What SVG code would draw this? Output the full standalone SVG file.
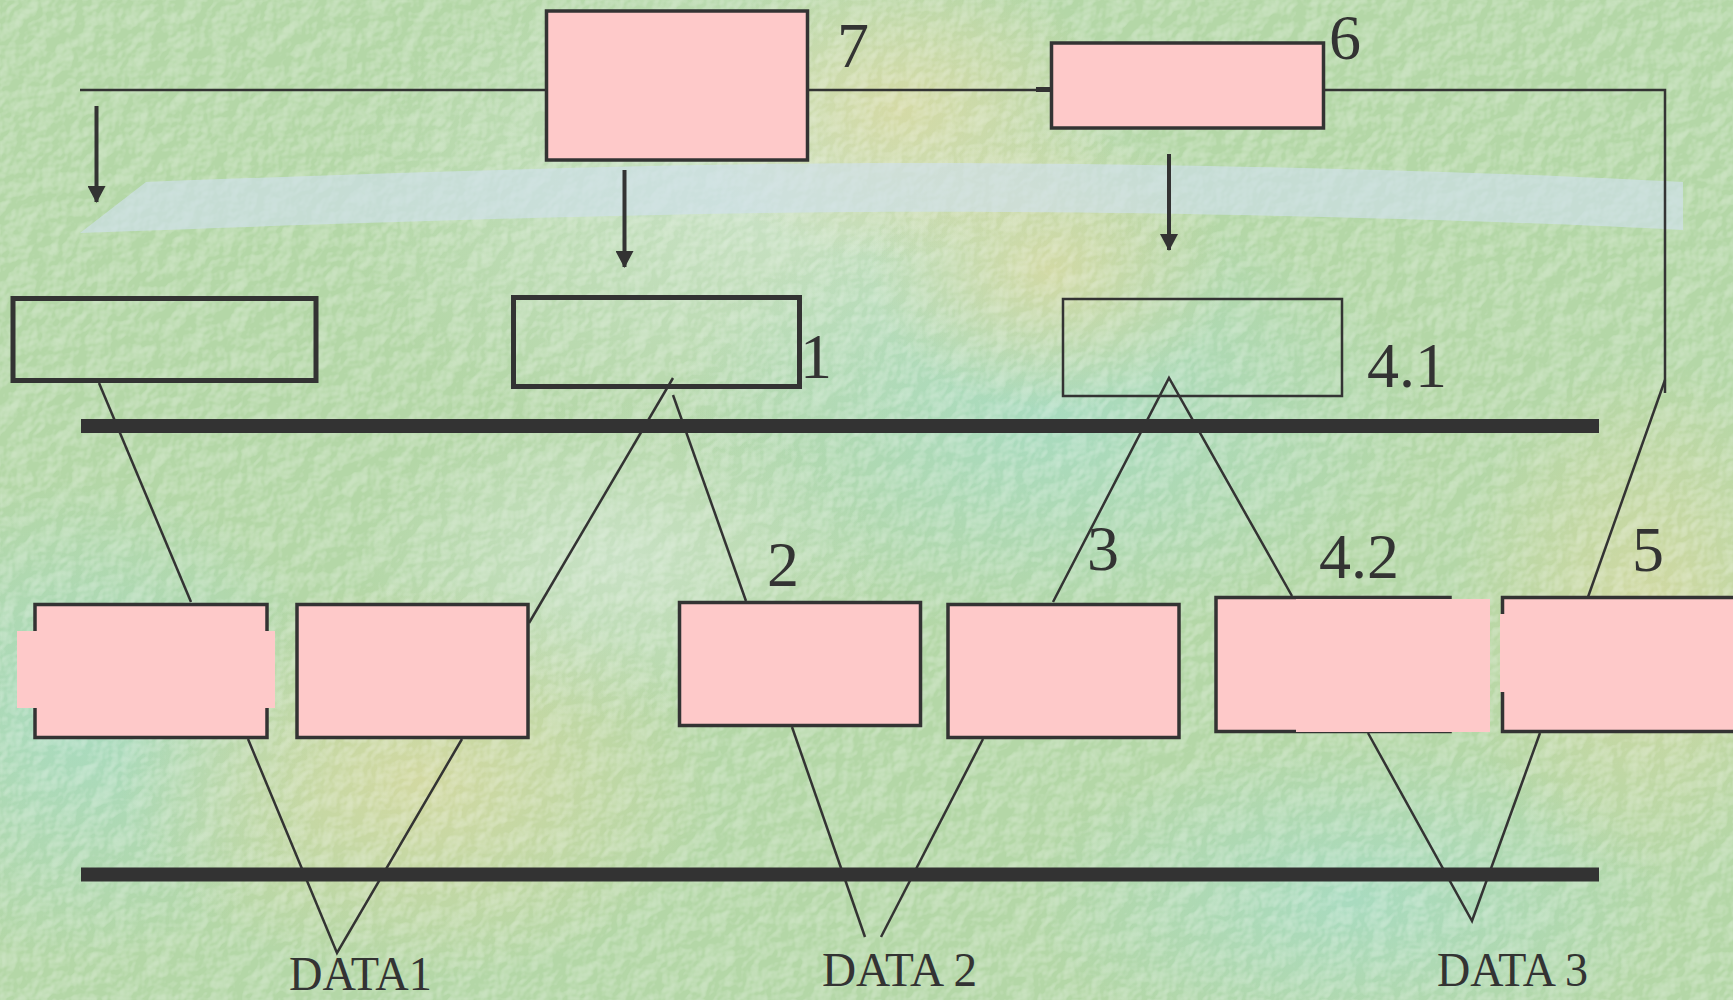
<svg xmlns="http://www.w3.org/2000/svg" width="1733" height="1000" viewBox="0 0 1733 1000">
<defs>
<style>
.ln{stroke:#333;stroke-width:2.5;fill:none}
.pk{fill:#fec9c9}
.pkb{fill:#fec9c9;stroke:#333;stroke-width:3.5}
.eb{fill:none;stroke:#333;stroke-width:5}
.bar{stroke:#333;stroke-width:14}
.lab{font-family:"Liberation Serif","Times New Roman",serif;font-size:64px;fill:#333}
.dat{font-family:"Liberation Serif","Times New Roman",serif;font-size:48px;fill:#333}
.arr{stroke:#333;stroke-width:4;fill:none}
</style>
<marker id="ah" viewBox="0 0 17 18" refX="16" refY="9" markerWidth="17" markerHeight="18" markerUnits="userSpaceOnUse" orient="auto">
<path d="M0,0 L17,9 L0,18 Z" fill="#333"/>
</marker>
<radialGradient id="g1" cx="0.5" cy="0.5" r="0.5"><stop offset="0" stop-color="#a6dcc6" stop-opacity="0.8"/><stop offset="1" stop-color="#a6dcc6" stop-opacity="0"/></radialGradient>
<radialGradient id="g2" cx="0.5" cy="0.5" r="0.5"><stop offset="0" stop-color="#dcd9a0" stop-opacity="0.75"/><stop offset="1" stop-color="#dcd9a0" stop-opacity="0"/></radialGradient>
<radialGradient id="g3" cx="0.5" cy="0.5" r="0.5"><stop offset="0" stop-color="#d2e6d2" stop-opacity="0.7"/><stop offset="1" stop-color="#d2e6d2" stop-opacity="0"/></radialGradient>
<filter id="tex" x="0" y="0" width="100%" height="100%">
<feTurbulence type="fractalNoise" baseFrequency="0.05" numOctaves="3" seed="4" result="n"/>
<feDiffuseLighting in="n" surfaceScale="4" lighting-color="#ffffff" result="l"><feDistantLight azimuth="225" elevation="50"/></feDiffuseLighting>
<feColorMatrix type="matrix" values="0 0 0 0 1  0 0 0 0 1  0 0 0 0 1  1.6 0 0 0 -1.0" in="l"/>
</filter>
</defs>
<g id="background">
<rect width="1733" height="1000" fill="#b4d7a7"/>
<ellipse cx="760" cy="200" rx="420" ry="260" fill="url(#g3)"/>
<ellipse cx="1050" cy="420" rx="380" ry="220" fill="url(#g1)"/>
<ellipse cx="80" cy="720" rx="260" ry="240" fill="url(#g1)"/>
<ellipse cx="900" cy="110" rx="220" ry="150" fill="url(#g2)"/>
<ellipse cx="1050" cy="270" rx="180" ry="140" fill="url(#g2)"/>
<ellipse cx="420" cy="780" rx="300" ry="200" fill="url(#g2)"/>
<ellipse cx="1350" cy="900" rx="320" ry="160" fill="url(#g1)"/>
<ellipse cx="1650" cy="620" rx="200" ry="260" fill="url(#g2)"/>
<ellipse cx="620" cy="560" rx="260" ry="160" fill="url(#g3)"/>
<rect width="1733" height="1000" filter="url(#tex)" opacity="0.5"/>
<path d="M80,233 L146,182 C400,172 700,163 900,163 C1200,163 1500,172 1683,182 L1683,230 C1450,218 1100,210 850,212 C600,214 300,225 80,233 Z" fill="#cfe1ec" opacity="0.65"/>
</g>
<g id="connectors">
<path class="ln" d="M80,90 H545 M809,90 H1050 M1325,90 H1665 V393"/>
<rect x="1036" y="87" width="14" height="5" fill="#333"/>
<line class="arr" x1="96.5" y1="106" x2="96.5" y2="202" marker-end="url(#ah)"/>
<line class="arr" x1="624.5" y1="170" x2="624.5" y2="267" marker-end="url(#ah)"/>
<line class="arr" x1="1169" y1="154" x2="1169" y2="250" marker-end="url(#ah)"/>
<path class="ln" d="M99,383 L191,602"/>
<path class="ln" d="M673,378 L529,623"/>
<path class="ln" d="M673,395 L746,601"/>
<path class="ln" d="M1053,602 L1169,378 L1292,596"/>
<path class="ln" d="M1665,380 L1588,597"/>
<path class="ln" d="M248,739 L337,953 L462,739"/>
<path class="ln" d="M792,727 L865,937"/>
<path class="ln" d="M983,739 L881,937"/>
<path class="ln" d="M1368,733 L1472,921 L1540,733"/>
</g>
<g id="bus-top"><line class="bar" x1="81" y1="426" x2="1599" y2="426"/></g>
<g id="bus-bottom"><line class="bar" x1="81" y1="874.5" x2="1599" y2="874.5"/></g>
<g id="node-7">
<rect class="pkb" x="546.5" y="11" width="261" height="149"/>
<text class="lab" x="837" y="67">7</text>
</g>
<g id="node-6">
<rect class="pkb" x="1051.5" y="43" width="272" height="85"/>
<text class="lab" x="1329" y="59">6</text>
</g>
<g id="node-left-empty">
<rect class="eb" x="13" y="298.5" width="303" height="82"/>
</g>
<g id="node-1">
<rect class="eb" x="513.5" y="297.5" width="286" height="89"/>
<text class="lab" x="800" y="378">1</text>
</g>
<g id="node-4-1">
<rect fill="none" stroke="#333" stroke-width="2.5" x="1063" y="299" width="279" height="97"/>
<text class="lab" x="1367" y="387">4.1</text>
</g>
<g id="node-left-a">
<rect class="pkb" x="35" y="604.5" width="232" height="133"/>
<rect class="pk" x="17" y="631" width="258" height="77"/>
</g>
<g id="node-left-b">
<rect class="pkb" x="297" y="604.5" width="231" height="133"/>
</g>
<g id="node-2">
<rect class="pkb" x="679.5" y="602.5" width="241" height="123"/>
<text class="lab" x="767" y="586">2</text>
</g>
<g id="node-3">
<rect class="pkb" x="948" y="604.5" width="231" height="133"/>
<text class="lab" x="1087" y="570">3</text>
</g>
<g id="node-4-2">
<rect class="pkb" x="1216" y="597.5" width="234" height="134"/>
<rect class="pk" x="1296" y="599" width="194" height="133"/>
<text class="lab" x="1319" y="578">4.2</text>
</g>
<g id="node-5">
<rect class="pkb" x="1502.5" y="597.5" width="240" height="134"/>
<rect class="pk" x="1500" y="614" width="20" height="78"/>
<text class="lab" x="1632" y="571">5</text>
</g>
<g id="data-labels">
<text class="dat" x="289" y="990" textLength="143" lengthAdjust="spacingAndGlyphs">DATA1</text>
<text class="dat" x="822" y="986" textLength="155" lengthAdjust="spacingAndGlyphs">DATA 2</text>
<text class="dat" x="1437" y="986" textLength="151" lengthAdjust="spacingAndGlyphs">DATA 3</text>
</g>
</svg>
